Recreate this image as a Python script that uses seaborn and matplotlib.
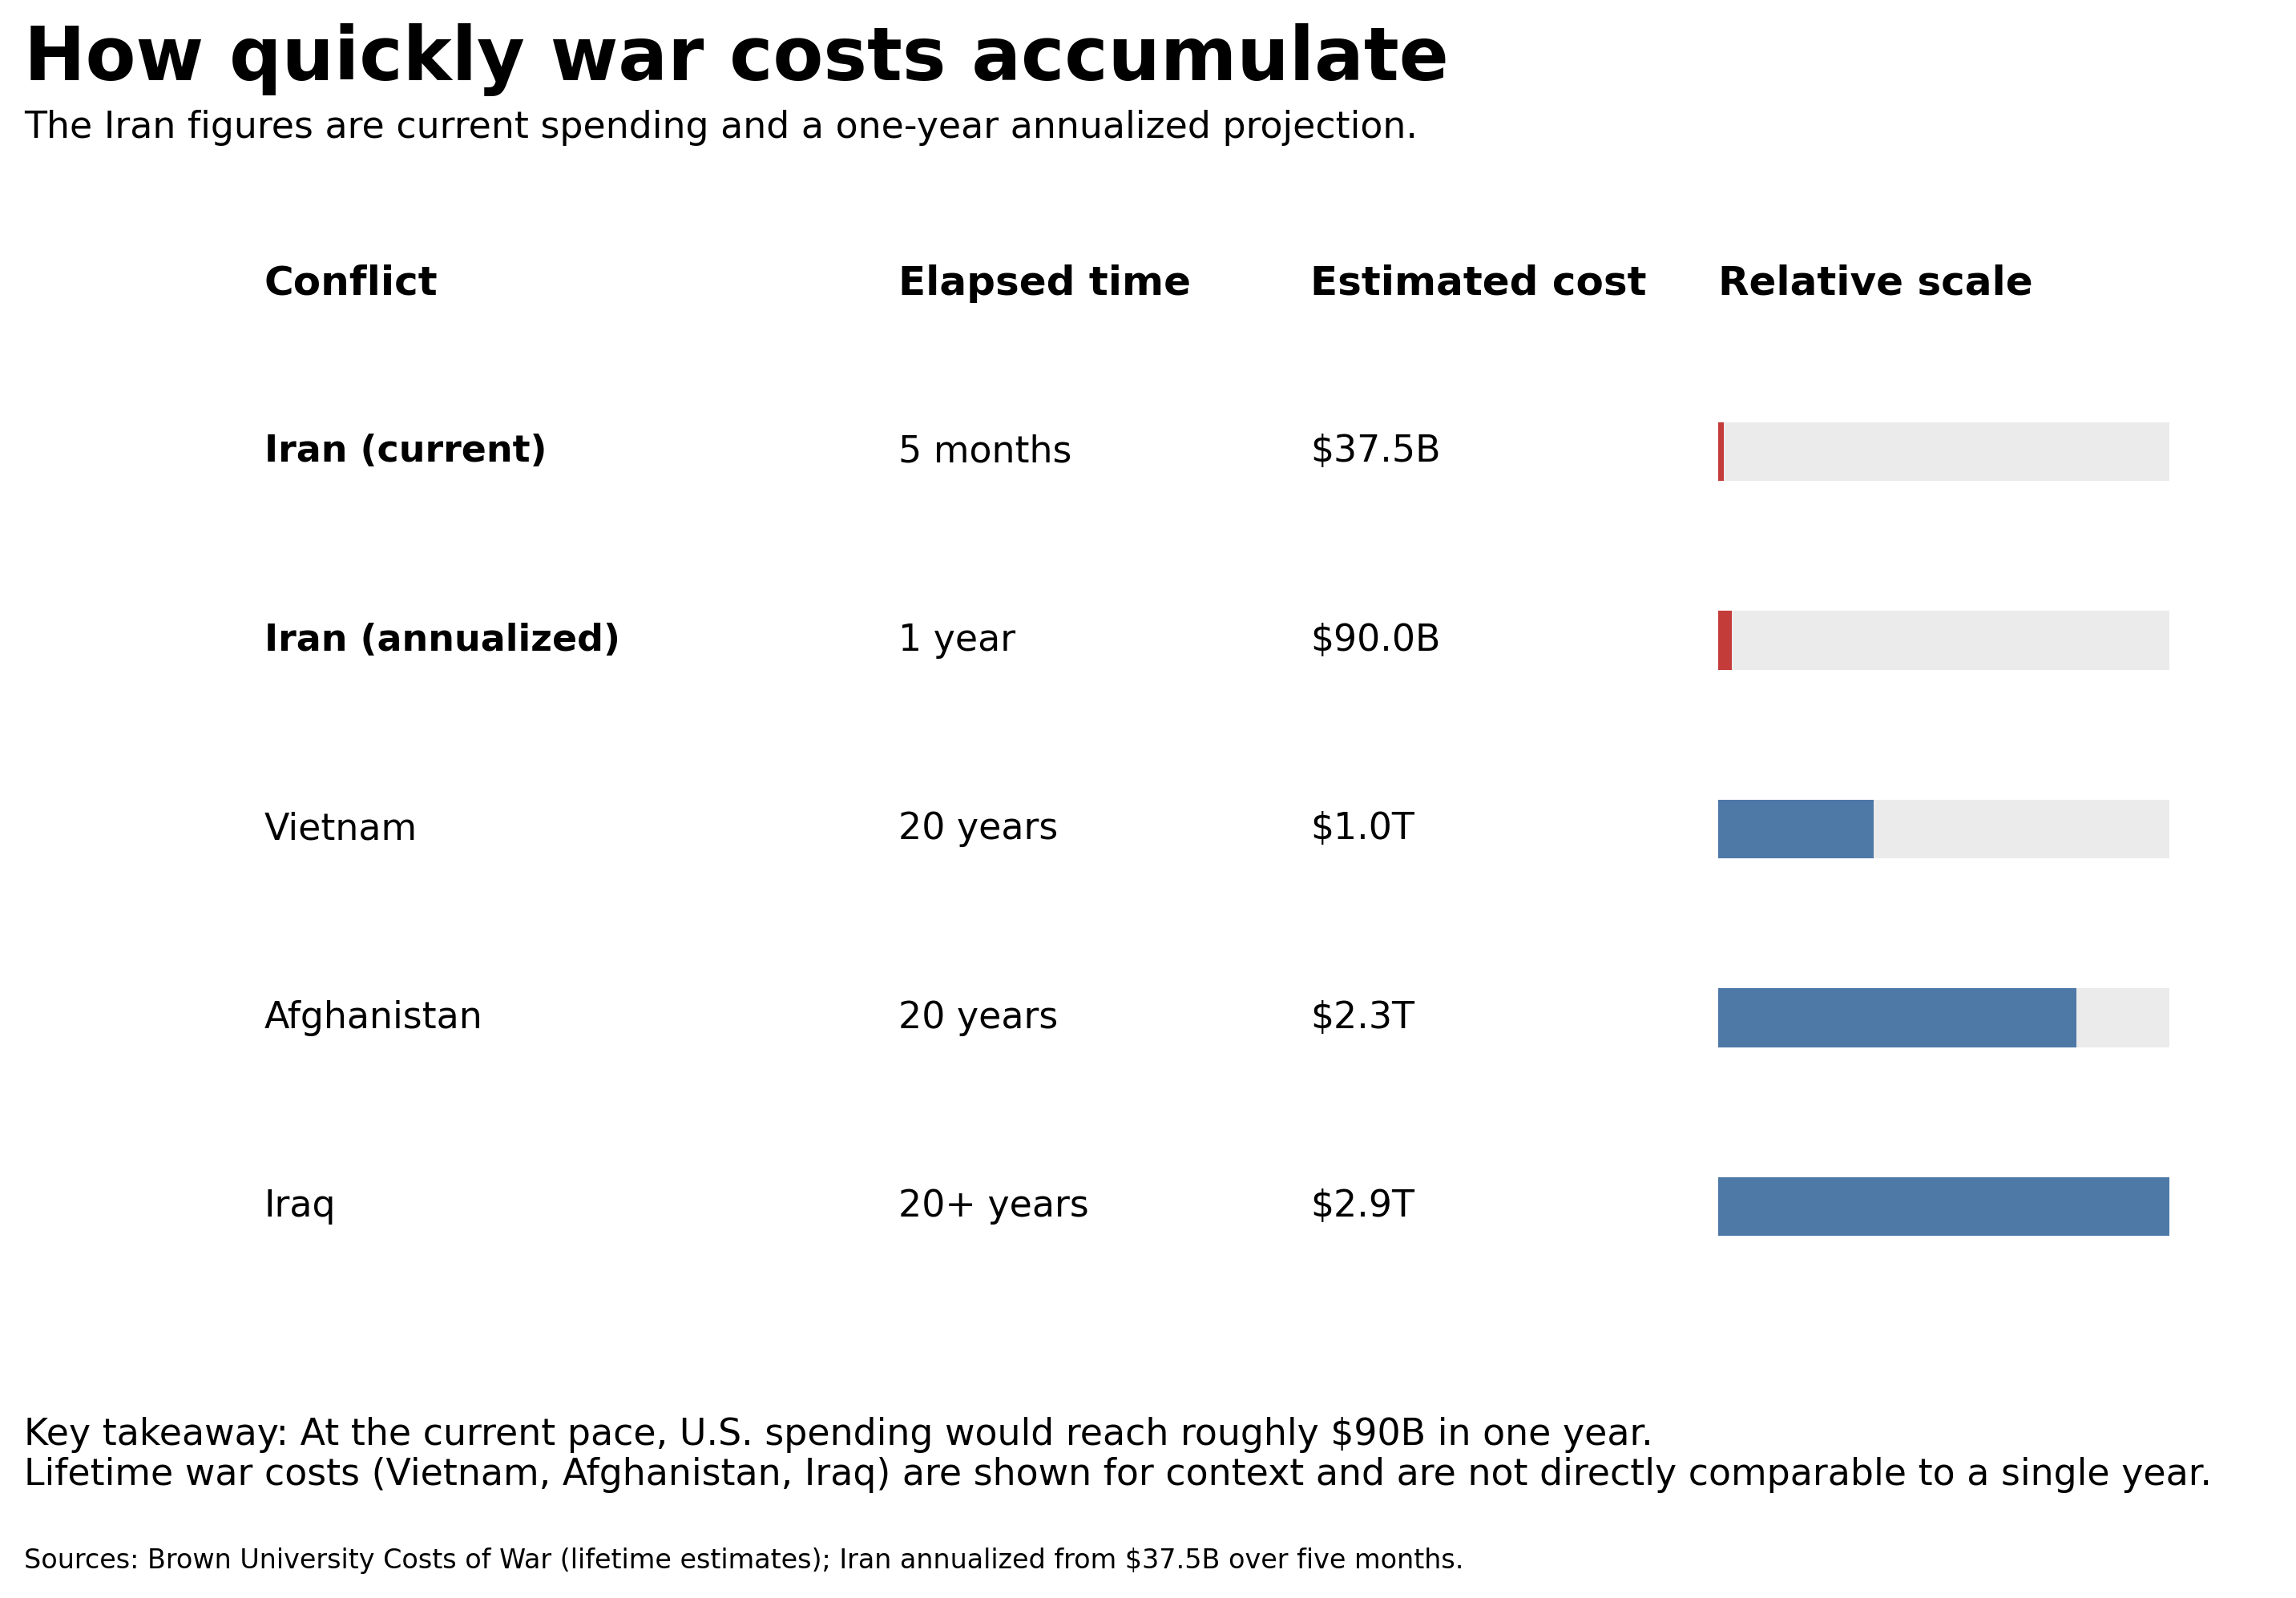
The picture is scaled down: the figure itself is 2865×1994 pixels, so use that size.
import matplotlib
matplotlib.use("Agg")
import matplotlib.pyplot as plt
import seaborn as sns
from matplotlib.transforms import blended_transform_factory

# data
conflicts = ["Iran (current)", "Iran (annualized)", "Vietnam", "Afghanistan", "Iraq"]
elapsed = ["5 months", "1 year", "20 years", "20 years", "20+ years"]
cost_labels = ["$37.5B", "$90.0B", "$1.0T", "$2.3T", "$2.9T"]
costs_bn = [37.5, 90.0, 1000, 2300, 2900]
headers = ["Conflict", "Elapsed time", "Estimated cost", "Relative scale"]

RED = "#c43c3a"
BLUE = "#4e79a7"
TRACK = "#ebebeb"

sns.set_theme(style="white")
plt.rcParams["font.family"] = ["DejaVu Sans"]
plt.rcParams["text.color"] = "black"

fig = plt.figure(figsize=(14.325, 9.97), dpi=200)
W, H = 2865, 1994

# bar axes sits in the "Relative scale" column
ax = fig.add_axes([2144 / W, 1 - 1623.25 / H, 563 / W, 1177.5 / H])

track = [max(costs_bn)] * len(conflicts)
sns.barplot(x=track, y=conflicts, color=TRACK, saturation=1, width=0.31,
            orient="h", linewidth=0, ax=ax)
colors = [RED if c.startswith("Iran") else BLUE for c in conflicts]
sns.barplot(x=costs_bn, y=conflicts, hue=conflicts, palette=colors, saturation=1,
            width=0.31, orient="h", linewidth=0, legend=False, ax=ax)
ax.set_xlim(0, max(costs_bn))
ax.set_ylim(len(conflicts) - 0.5, -0.5)
ax.axis("off")

# table text
col_x = [330 / W, 1121 / W, 1635 / W, 2144 / W]
trans = blended_transform_factory(fig.transFigure, ax.transData)
for i, name in enumerate(conflicts):
    weight = "bold" if name.startswith("Iran") else "normal"
    ax.text(col_x[0], i, name, transform=trans, fontsize=16.5, fontweight=weight,
            va="center", ha="left")
    ax.text(col_x[1], i, elapsed[i], transform=trans, fontsize=16.5, va="center", ha="left")
    ax.text(col_x[2], i, cost_labels[i], transform=trans, fontsize=16.5, va="center", ha="left")

for x, h in zip(col_x, headers):
    fig.text(x, 1 - 368 / H, h, fontsize=18, fontweight="bold", va="baseline", ha="left")

# title, subtitle, notes
fig.text(0.0105, 1 - 100 / H, "How quickly war costs accumulate", fontsize=33,
         fontweight="bold", va="baseline", ha="left")
fig.text(0.0105, 1 - 172 / H,
         "The Iran figures are current spending and a one-year annualized projection.",
         fontsize=16.5, va="baseline", ha="left")
fig.text(0.0105, 1 - 1803 / H,
         "Key takeaway: At the current pace, U.S. spending would reach roughly $90B in one year.",
         fontsize=16.5, va="baseline", ha="left")
fig.text(0.0105, 1 - 1853 / H,
         "Lifetime war costs (Vietnam, Afghanistan, Iraq) are shown for context and are not "
         "directly comparable to a single year.",
         fontsize=16.5, va="baseline", ha="left")
fig.text(0.0105, 1 - 1957 / H,
         "Sources: Brown University Costs of War (lifetime estimates); Iran annualized from "
         "$37.5B over five months.",
         fontsize=12, va="baseline", ha="left")

fig.savefig("out.png", dpi=200, facecolor="white")
